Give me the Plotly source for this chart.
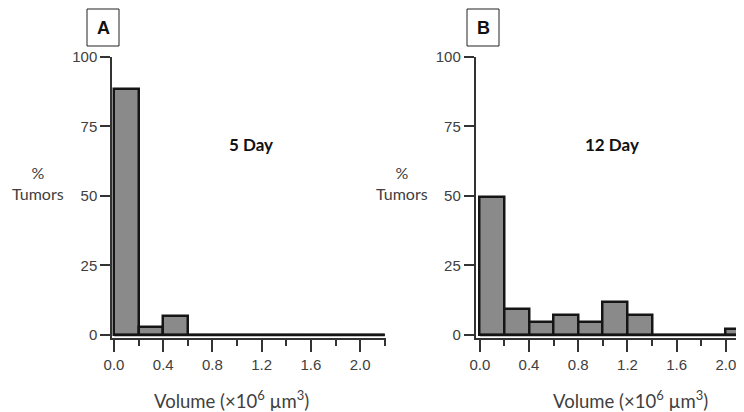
import plotly.graph_objects as go

# ---- data ----
bin_left = [0.0, 0.2, 0.4, 0.6, 0.8, 1.0, 1.2, 1.4, 1.6, 1.8, 2.0]
bin_width = 0.2
day5_pct = [88.5, 3.0, 7.0, 0, 0, 0, 0, 0, 0, 0, 0]
day12_pct = [49.7, 9.5, 4.8, 7.1, 4.8, 11.9, 7.1, 0, 0, 0, 2.2]
y_ticks = [0, 25, 50, 75, 100]
x_ticks = [0.0, 0.4, 0.8, 1.2, 1.6, 2.0]
x_tick_labels = ["0.0", "0.4", "0.8", "1.2", "1.6", "2.0"]
panel_names = ["A", "B"]
panel_titles = ["5 Day", "12 Day"]
y_label = "%<br>Tumors"
x_label = "Volume (×10<sup>6</sup> µm<sup>3</sup>)"

centers = [b + bin_width / 2 for b in bin_left]
edges = [bin_left[0], bin_left[-1] + bin_width]

W, H = 744, 412
OFF = 8  # page body margin
FILL = "#8a8a8a"
EDGE = "#151515"
AXC = "#333333"
TXT = "#404040"
TICKFONT = dict(family="Liberation Sans, Arial, sans-serif", size=15, color=TXT)
CAL = "Lato, Carlito, Calibri, sans-serif"

fig = go.Figure()
for i, vals in enumerate([day5_pct, day12_pct]):
    xa = "x" if i == 0 else "x2"
    ya = "y" if i == 0 else "y2"
    fig.add_trace(go.Scatter(x=edges, y=[0, 0], mode="lines",
                             line=dict(color=EDGE, width=2.5),
                             xaxis=xa, yaxis=ya, showlegend=False, hoverinfo="skip"))
    fig.add_trace(go.Bar(x=centers, y=vals, width=bin_width,
                         marker=dict(color=FILL, line=dict(color=EDGE, width=2.5)),
                         xaxis=xa, yaxis=ya, showlegend=False))

def px_x(p):
    return (p - OFF) / W

def px_y(p):
    return 1 - (p - OFF) / H

ydom = [px_y(338.3), px_y(57)]
common_x = dict(showline=True, linecolor=AXC, linewidth=1.5, ticks="outside",
                ticklen=12, tickwidth=1.5, tickcolor=AXC, tickvals=x_ticks,
                ticktext=x_tick_labels, tickfont=TICKFONT, showgrid=False,
                zeroline=False, automargin=False,
                minor=dict(dtick=0.2, tick0=0, ticks="outside", ticklen=6,
                           tickwidth=1.5, tickcolor=AXC, showgrid=False))
common_y = dict(showline=True, linecolor=AXC, linewidth=1.5, ticks="outside",
                ticklen=10, tickwidth=1.5, tickcolor=AXC, tickvals=y_ticks,
                tickfont=TICKFONT, showgrid=False, zeroline=False, automargin=False,
                range=[-1.2, 100], domain=ydom)

fig.update_layout(
    width=W, height=H, margin=dict(l=0, r=0, t=0, b=0, pad=0, autoexpand=False),
    paper_bgcolor="white", plot_bgcolor="white", bargap=0,
    xaxis=dict(common_x, domain=[px_x(112), px_x(386)], range=[-0.016, 2.21], anchor="y"),
    yaxis=dict(common_y, anchor="x"),
    xaxis2=dict(common_x, domain=[px_x(475.5), 1.0], range=[-0.035, 2.212], anchor="y2"),
    yaxis2=dict(common_y, anchor="x2"),
)

# annotations
boxes = [(87, 119), (467, 499)]
for i in range(2):
    x0, x1 = boxes[i]
    fig.add_shape(type="rect", xref="paper", yref="paper",
                  x0=px_x(x0), x1=px_x(x1), y0=px_y(46), y1=px_y(9),
                  line=dict(color="#222222", width=1), fillcolor="white")
    fig.add_annotation(xref="paper", yref="paper", x=px_x((x0 + x1) / 2), y=px_y(27.5),
                       text="<b>%s</b>" % panel_names[i], showarrow=False,
                       font=dict(family="Liberation Sans, Arial, sans-serif", size=18, color="#111111"),
                       xanchor="center", yanchor="middle")

title_x = [251, 612]
for i in range(2):
    fig.add_annotation(xref="paper", yref="paper", x=px_x(title_x[i]), y=px_y(145),
                       text="<b>%s</b>" % panel_titles[i], showarrow=False,
                       font=dict(family=CAL, size=17, color="#111111"),
                       xanchor="center", yanchor="middle")

ylab_x = [38, 402]
for i in range(2):
    fig.add_annotation(xref="paper", yref="paper", x=px_x(ylab_x[i]), y=px_y(183),
                       text=y_label, showarrow=False,
                       font=dict(family=CAL, size=16, color=TXT),
                       xanchor="center", yanchor="middle")

xlab_x = [231, 630]
for i in range(2):
    fig.add_annotation(xref="paper", yref="paper", x=px_x(xlab_x[i]), y=px_y(399),
                       text=x_label, showarrow=False,
                       font=dict(family=CAL, size=18.5, color=TXT),
                       xanchor="center", yanchor="middle")

fig.write_html("out.html")
